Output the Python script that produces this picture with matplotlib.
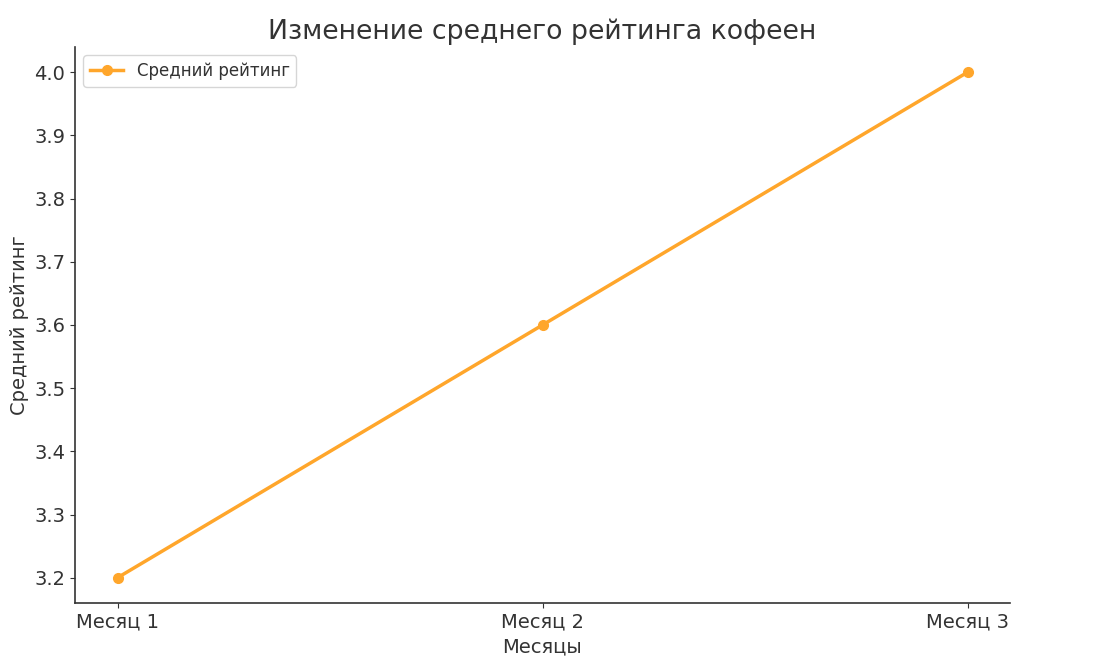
import matplotlib
matplotlib.use("Agg")
import matplotlib.pyplot as plt

months = ["Месяц 1", "Месяц 2", "Месяц 3"]
ratings = [3.2, 3.6, 4.0]

TEXT = "#333333"
plt.rcParams['font.family'] = ['DejaVu Sans']
plt.rcParams['text.color'] = TEXT
plt.rcParams['axes.labelcolor'] = TEXT
plt.rcParams['xtick.color'] = TEXT
plt.rcParams['ytick.color'] = TEXT

fig = plt.figure(figsize=(11.08, 6.64), dpi=100)
ax = fig.add_axes([75/1108, 1-603/664, (1010-75)/1108, (603-47)/664])
ax.plot(months, ratings, color="#FFA62B", linewidth=2.5, marker="o", markersize=7, label="Средний рейтинг")
ax.set_title("Изменение среднего рейтинга кофеен", fontsize=19.3, color=TEXT, pad=6)
ax.set_xlabel("Месяцы", fontsize=14, labelpad=4)
ax.set_ylabel("Средний рейтинг", fontsize=14)
ax.tick_params(labelsize=14)
ax.spines['top'].set_visible(False)
ax.spines['right'].set_visible(False)
for s in ['left', 'bottom']:
    ax.spines[s].set_color(TEXT)
    ax.spines[s].set_linewidth(1.2)
ax.legend(loc="upper left", fontsize=12)
fig.savefig("out.png", dpi=100)
